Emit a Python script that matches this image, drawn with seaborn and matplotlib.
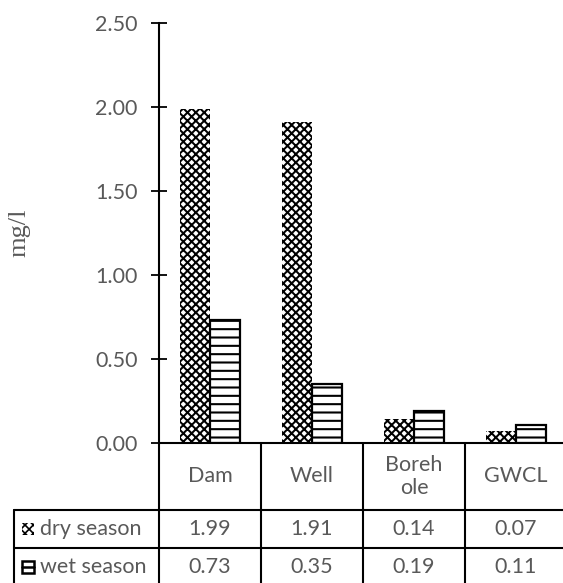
import matplotlib
matplotlib.use("Agg")
import matplotlib.pyplot as plt
from matplotlib.lines import Line2D
from matplotlib.patches import Rectangle
from matplotlib.transforms import blended_transform_factory
import seaborn as sns
import pandas as pd

categories = ["Dam", "Well", "Borehole", "GWCL"]
cat_labels = ["Dam", "Well", "Boreh\nole", "GWCL"]
dry_season = [1.99, 1.91, 0.14, 0.07]
wet_season = [0.73, 0.35, 0.19, 0.11]
series_names = ["dry season", "wet season"]
yticks = [0.0, 0.5, 1.0, 1.5, 2.0, 2.5]

sns.set_style("white")
plt.rcParams["font.family"] = ["Lato", "DejaVu Sans"]
plt.rcParams["hatch.linewidth"] = 1.45

df = pd.DataFrame({
    "site": categories * 2,
    "value": dry_season + wet_season,
    "season": [series_names[0]] * 4 + [series_names[1]] * 4,
})

W, H = 563, 583
fig = plt.figure(figsize=(W / 100, H / 100), dpi=100)
ax_left, ax_bottom_px, ax_top_px, cat_w = 159, 443, 23, 102
ax = fig.add_axes([ax_left / W, (H - ax_bottom_px) / H, 4 * cat_w / W,
                   (ax_bottom_px - ax_top_px) / H])

sns.barplot(data=df, x="site", y="value", hue="season", order=categories,
            hue_order=series_names, width=0.59, gap=0, ax=ax, legend=False,
            palette=["white", "white"], saturation=1)


def set_hlw(p, v):
    if hasattr(p, "set_hatch_linewidth"):
        p.set_hatch_linewidth(v)


grey = "#595959"
for bar in ax.containers[0]:
    bar.set_facecolor("white")
    bar.set_edgecolor("black")
    bar.set_linewidth(0)
    bar.set_hatch("xxxx")
    set_hlw(bar, 1.45)
for bar in ax.containers[1]:
    bar.set_facecolor("white")
    bar.set_edgecolor("black")
    bar.set_linewidth(1.6)
    bar.set_hatch("--")
    set_hlw(bar, 1.5)

fs = 15.5
ax.set_xlim(-0.5, 3.5)
ax.set_ylim(0, 2.5)
ax.set_yticks(yticks)
ax.set_yticklabels([f"{v:.2f}" for v in yticks], color=grey, fontsize=fs)
ax.tick_params(axis="y", direction="inout", length=11, width=1.3, color="black", pad=10, left=True)
ax.tick_params(axis="x", bottom=False, labelbottom=False)
ax.set_xlabel("")
ax.set_ylabel("mg/l", family="Liberation Serif", color=grey, fontsize=19)
hpx = ax_bottom_px - ax_top_px
ax.yaxis.label.set_verticalalignment("center")
ax.yaxis.set_label_coords((19 - ax_left) / (4 * cat_w), (ax_bottom_px - 233) / hpx)
for s in ["top", "right"]:
    ax.spines[s].set_visible(False)
for s in ["left", "bottom"]:
    ax.spines[s].set_color("black")
    ax.spines[s].set_linewidth(1.5)

# data table below the axis
tr = blended_transform_factory(ax.transData, ax.transAxes)
def yax(py):
    return (ax_bottom_px - py) / hpx
row_header = yax(510)
row_dry = yax(547.5)
row_bot = yax(586)
x_left = -0.5 - (ax_left - 14) / cat_w
lw = 1.5
def line(xs, ys):
    ax.add_line(Line2D(xs, ys, transform=tr, color="black", lw=lw, clip_on=False))

for i in range(len(categories) + 1):
    line([-0.5 + i, -0.5 + i], [0, row_bot])
line([x_left, 3.6], [row_header, row_header])
line([x_left, 3.6], [row_dry, row_dry])
line([x_left, x_left], [row_header, row_bot])

for i, lab in enumerate(cat_labels):
    ax.text(i, (0 + row_header) / 2, lab, transform=tr, ha="center", va="center",
            color=grey, fontsize=fs, linespacing=1.15)
    ax.text(i, (row_header + row_dry) / 2, f"{dry_season[i]:.2f}", transform=tr,
            ha="center", va="center", color=grey, fontsize=fs)
    ax.text(i, (row_dry + row_bot) / 2, f"{wet_season[i]:.2f}", transform=tr,
            ha="center", va="center", color=grey, fontsize=fs)

# legend keys in the row labels
key_w = 12 / cat_w
key_h = 12 / hpx
kx = x_left + 8 / cat_w
rows = [(row_header, row_dry), (row_dry, row_bot)]
for k, ((ytop, ybot), name) in enumerate(zip(rows, series_names)):
    yc = (ytop + ybot) / 2
    if k == 0:
        key = Rectangle((kx, yc - key_h / 2), key_w, key_h, transform=tr,
                        facecolor="white", edgecolor="black", lw=0,
                        hatch="xxxx", clip_on=False)
        set_hlw(key, 1.2)
        ax.add_patch(key)
    else:
        ax.add_patch(Rectangle((kx, yc - key_h / 2), key_w, key_h, transform=tr,
                               facecolor="white", edgecolor="black", lw=1.8,
                               clip_on=False))
        ax.add_line(Line2D([kx, kx + key_w], [yc, yc], transform=tr, color="black",
                           lw=1.8, clip_on=False))
    ax.text(kx + key_w + 6 / cat_w, yc, name, transform=tr, ha="left", va="center",
            color=grey, fontsize=fs)

fig.savefig("out.png", dpi=100)
